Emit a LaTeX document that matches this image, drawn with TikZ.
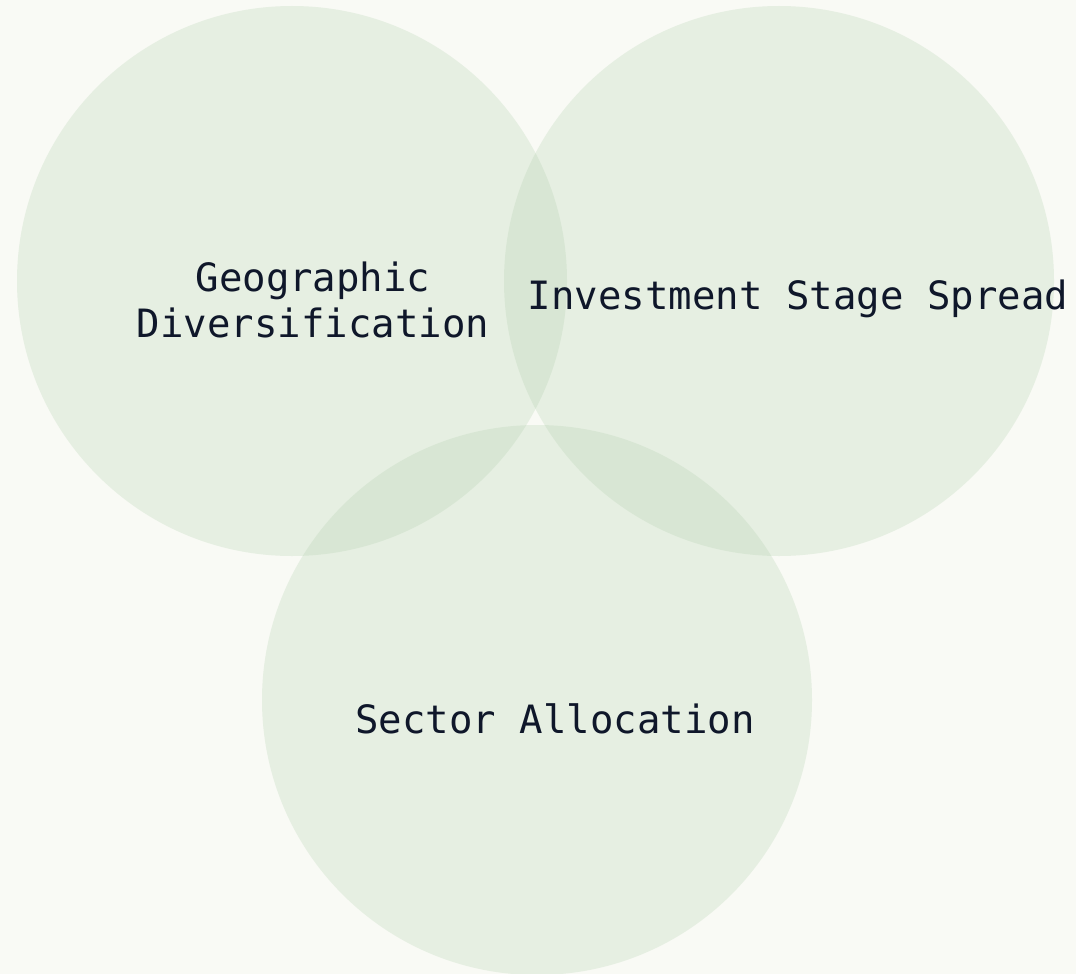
\documentclass[tikz,border=0pt]{standalone}
\usepackage{fontspec}
\setmonofont{DejaVu Sans Mono}
\definecolor{bgcol}{HTML}{F9FAF5}
\definecolor{circcol}{RGB}{177,208,173}
\definecolor{txtcol}{HTML}{0F172A}
\begin{document}
\begin{tikzpicture}[x=1pt,y=-1pt,
  venn/.style={circle,draw=none,fill=circcol,fill opacity=0.26,minimum size=550pt,inner sep=0pt},
  lbl/.style={text=txtcol,font=\ttfamily\fontsize{39}{46}\selectfont,align=center,inner sep=0pt}]
\fill[bgcol] (0,0) rectangle (1076,974);
\useasboundingbox (0,0) rectangle (1076,974);
\node[venn] (geo) at (292,281) {};
\node[venn] (inv) at (779,281) {};
\node[venn] (sec) at (537,700) {};
\node[lbl] (geol) at (313,300) {Geographic\\Diversification};
\node[lbl] (invl) at (798,299) {Investment Stage Spread};
\node[lbl] (secl) at (555,719) {Sector Allocation};
\end{tikzpicture}
\end{document}
